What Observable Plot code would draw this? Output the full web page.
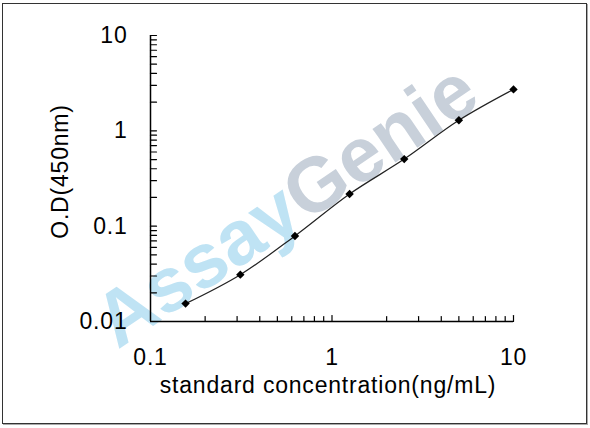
<!DOCTYPE html>
<html><head><meta charset="utf-8">
<script src="https://cdn.jsdelivr.net/npm/d3@7"></script>
<script src="https://cdn.jsdelivr.net/npm/@observablehq/plot@0.6"></script>
<style>
body{margin:0;background:#fff;}
#wrap{position:relative;width:590px;height:428px;overflow:hidden;}
#wrap svg{position:absolute;left:0;top:0;}
#wrap svg text{letter-spacing:0.8px;}
#wrap svg .wm text{letter-spacing:0;}
#frame{position:absolute;left:2px;top:3px;width:583px;height:419px;border:1.5px solid #333;pointer-events:none;box-shadow:1px 1px 0 #aaa;}
</style></head><body><div id="wrap"><div id="frame"></div></div>
<script>
const concentrations = [0.156, 0.3125, 0.625, 1.25, 2.5, 5, 10];
const odValues = [0.0154, 0.031, 0.079, 0.2175, 0.505, 1.29, 2.72];
const xTickLabels = [0.1, 1, 10];
const yTickLabels = [0.01, 0.1, 1, 10];
const xMajorTicks = [1, 10];
const xMinorTicks = [0.2, 0.3, 0.4, 0.5, 0.6, 0.7, 0.8, 0.9, 2, 3, 4, 5, 6, 7, 8, 9];
const yTicks = [0.02, 0.03, 0.04, 0.05, 0.06, 0.07, 0.08, 0.09, 0.1, 0.2, 0.3, 0.4, 0.5, 0.6, 0.7, 0.8, 0.9, 1, 2, 3, 4, 5, 6, 7, 8, 9, 10];
const xTitle = "standard concentration(ng/mL)";
const yTitle = "O.D(450nm)";
const watermarkLeft = "Assay";
const watermarkRight = "Genie";

const points = concentrations.map((c, i) => ({c, od: odValues[i]}));
const tickShape = {draw(context, l) { context.moveTo(0, 0); context.lineTo(0, -l); }};
const font = "'Liberation Sans', Arial, sans-serif";

const chart = Plot.plot({
  width: 590,
  height: 428,
  marginLeft: 150,
  marginRight: 77,
  marginTop: 35,
  marginBottom: 107,
  style: {fontFamily: font, background: "transparent", color: "#000"},
  x: {type: "log", domain: [0.1, 10]},
  y: {type: "log", domain: [0.01, 10]},
  marks: [
    Plot.text([watermarkLeft], {className: "wm", frameAnchor: "middle", dx: -40, dy: 24, text: d => d, rotate: -34, textAnchor: "end", fontSize: 77, fontWeight: "bold", fill: "#bfe3f4"}),
    Plot.text([watermarkRight], {className: "wm", frameAnchor: "middle", dx: -40, dy: 24, text: d => d, rotate: -34, textAnchor: "start", fontSize: 77, fontWeight: "bold", fill: "#c8d0da"}),
    Plot.ruleX([0.1], {stroke: "#000", strokeWidth: 1.5}),
    Plot.ruleY([0.01], {stroke: "#000", strokeWidth: 1.5}),
    Plot.vector(yTicks, {y: d => d, frameAnchor: "left", rotate: 90, length: 6, anchor: "start", shape: tickShape, stroke: "#000", strokeWidth: 1.2}),
    Plot.vector(xMajorTicks, {x: d => d, frameAnchor: "bottom", rotate: 0, length: 6, anchor: "start", shape: tickShape, stroke: "#000", strokeWidth: 1.2}),
    Plot.vector(xMinorTicks, {x: d => d, frameAnchor: "bottom", rotate: 0, length: 5, anchor: "start", shape: tickShape, stroke: "#000", strokeWidth: 1.2}),
    Plot.axisY(yTickLabels, {tickSize: 0, tickPadding: 23, tickFormat: d => String(d), fontSize: 23, label: null}),
    Plot.axisX(xTickLabels, {tickSize: 0, tickPadding: 27, tickFormat: d => String(d), fontSize: 23, label: null}),
    Plot.text([xTitle], {frameAnchor: "bottom", lineAnchor: "middle", textAnchor: "middle", dx: -4, dy: 64, text: d => d, fontSize: 23}),
    Plot.text([yTitle], {frameAnchor: "left", lineAnchor: "middle", textAnchor: "middle", dx: -90, dy: -7, text: d => d, rotate: -90, fontSize: 23}),
    Plot.line(points, {x: "c", y: "od", curve: "catmull-rom", stroke: "#222", strokeWidth: 1.2}),
    Plot.dot(points, {x: "c", y: "od", symbol: "diamond2", r: 3.8, fill: "#000", stroke: "none"})
  ]
});
document.getElementById("wrap").prepend(chart);
</script>
</body></html>
